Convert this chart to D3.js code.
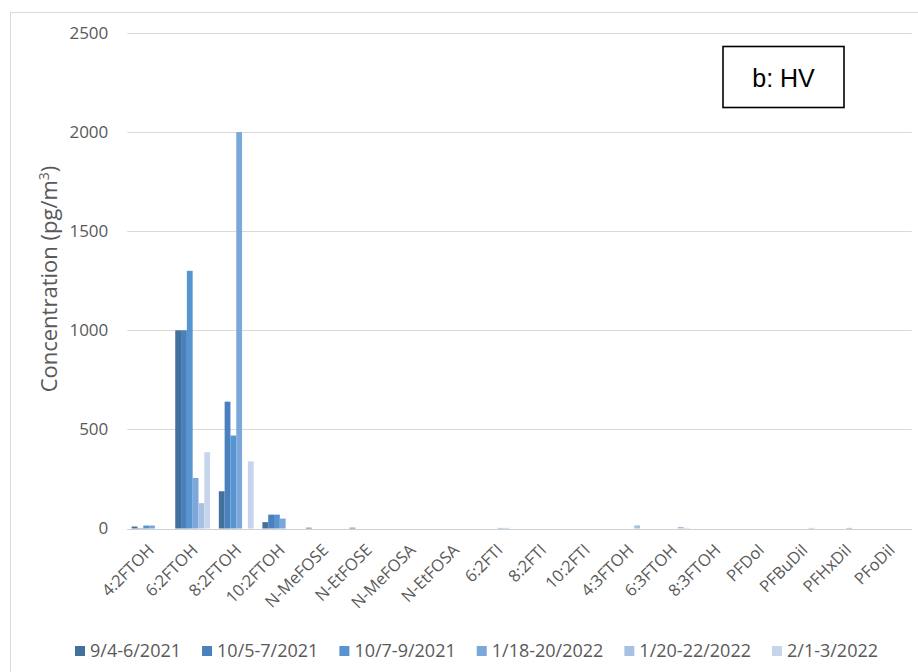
<!DOCTYPE html>
<html>
<head>
<meta charset="utf-8">
<script src="https://cdn.jsdelivr.net/npm/d3@7"></script>
<style>
  html, body { margin: 0; padding: 0; background: #fff; }
  svg { display: block; font-family: "Open Sans", sans-serif; }
</style>
</head>
<body>
<svg id="chart" width="918" height="672"></svg>
<script>
// ---- data ----
const categories = ["4:2FTOH", "6:2FTOH", "8:2FTOH", "10:2FTOH", "N-MeFOSE", "N-EtFOSE", "N-MeFOSA", "N-EtFOSA",
  "6:2FTI", "8:2FTI", "10:2FTI", "4:3FTOH", "6:3FTOH", "8:3FTOH", "PFDoI", "PFBuDiI", "PFHxDiI", "PFoDiI"];
const seriesNames = ["9/4-6/2021", "10/5-7/2021", "10/7-9/2021", "1/18-20/2022", "1/20-22/2022", "2/1-3/2022"];
const s1 = [10, 1000, 188, 32, 4, 4, 0, 0, 0, 0, 0, 0, 0, 0, 0, 0, 0, 0];
const s2 = [2, 1000, 640, 70, 0, 0, 0, 0, 0, 0, 0, 0, 0, 0, 0, 0, 0, 0];
const s3 = [15, 1300, 469, 70, 0, 0, 0, 0, 0, 0, 0, 0, 0, 0, 0, 0, 0, 0];
const s4 = [15, 255, 2000, 50, 0, 0, 0, 0, 3, 0, 0, 0, 0, 0, 0, 0, 3, 0];
const s5 = [0, 128, 0, 0, 0, 0, 0, 0, 3, 0, 0, 16, 8, 0, 0, 3, 0, 0];
const s6 = [0, 385, 339, 0, 0, 0, 0, 0, 0, 0, 0, 0, 3, 0, 0, 0, 0, 0];
const yTicks = [0, 500, 1000, 1500, 2000, 2500];
const colors = ["#44719c", "#4a80bd", "#5894d0", "#7ba7da", "#a8c1e3", "#c6d5ec"];
const allSeries = [s1, s2, s3, s4, s5, s6];

// ---- layout ----
const svg = d3.select("#chart");
const plot = { left: 127.3, right: 911.7, top: 33, bottom: 528.5 };

// outer frame
svg.append("rect")
  .attr("x", 10.5).attr("y", 12.5).attr("width", 930).attr("height", 700)
  .attr("fill", "none").attr("stroke", "#d9d9d9").attr("stroke-width", 1);

const x0 = d3.scaleBand().domain(categories).range([plot.left, plot.right])
  .paddingInner(0.2).paddingOuter(0.1);
const x1 = d3.scaleBand().domain(d3.range(seriesNames.length)).range([0, x0.bandwidth()]).padding(0);
const y = d3.scaleLinear().domain([0, 2500]).range([plot.bottom, plot.top]);

// gridlines
svg.append("g").selectAll("line").data(yTicks).join("line")
  .attr("x1", plot.left).attr("x2", plot.right)
  .attr("y1", d => Math.round(y(d)) + 0.5).attr("y2", d => Math.round(y(d)) + 0.5)
  .attr("stroke", "#d9d9d9").attr("stroke-width", 1);

// y-axis via d3.axisLeft (no domain line, no tick lines)
const yAxis = svg.append("g")
  .attr("transform", `translate(${plot.left},0)`)
  .call(d3.axisLeft(y).tickValues(yTicks).tickSize(0).tickPadding(19).tickFormat(d3.format("d")));
yAxis.select(".domain").remove();
yAxis.selectAll("text").attr("fill", "#595959").attr("font-size", 17)
  .attr("font-family", "'Open Sans', sans-serif");

// bars
const rows = categories.map((c, i) => ({ cat: c, vals: allSeries.map(s => s[i]) }));
const groups = svg.append("g").selectAll("g").data(rows).join("g")
  .attr("transform", d => `translate(${x0(d.cat)},0)`);
groups.selectAll("rect").data(d => d.vals.map((v, k) => ({ v, k }))).join("rect")
  .attr("x", d => x1(d.k))
  .attr("width", x1.bandwidth())
  .attr("y", d => y(d.v))
  .attr("height", d => Math.max(0, y(0) - y(d.v)))
  .attr("fill", d => colors[d.k]);

// x axis line
svg.append("line")
  .attr("x1", plot.left).attr("x2", plot.right)
  .attr("y1", Math.round(y(0)) + 0.5).attr("y2", Math.round(y(0)) + 0.5)
  .attr("stroke", "#d0d0d0").attr("stroke-width", 1.2);

// x labels (rotated)
svg.append("g").selectAll("text").data(categories).join("text")
  .attr("transform", d => `translate(${x0(d) + x0.bandwidth() / 2 + 2},547) rotate(-45)`)
  .attr("text-anchor", "end")
  .attr("dy", "0.35em")
  .attr("fill", "#595959").attr("font-size", 16.5)
  .text(d => d);

// y title
const yt = svg.append("text")
  .attr("transform", "translate(57,279) rotate(-90)")
  .attr("text-anchor", "middle")
  .attr("fill", "#595959").attr("font-size", 22);
yt.append("tspan").text("Concentration (pg/m");
yt.append("tspan").attr("font-size", 14).attr("dy", "-8").text("3");
yt.append("tspan").attr("dy", "8").text(")");

// legend
const legend = svg.append("g");
let lx = 75;
seriesNames.forEach((name, k) => {
  legend.append("rect").attr("x", lx).attr("y", 646).attr("width", 10).attr("height", 10).attr("fill", colors[k]);
  const t = legend.append("text").attr("x", lx + 15).attr("y", 651).attr("dy", "0.35em")
    .attr("fill", "#595959").attr("font-size", 18).text(name);
  lx += 15 + t.node().getComputedTextLength() + 21;
});

// annotation box
svg.append("rect").attr("x", 723).attr("y", 46.5).attr("width", 121).attr("height", 61)
  .attr("fill", "#fff").attr("stroke", "#000").attr("stroke-width", 1.6);
svg.append("text").attr("x", 783.5).attr("y", 87).attr("text-anchor", "middle")
  .attr("font-family", "'Liberation Sans', Arial, sans-serif").attr("font-size", 25).attr("fill", "#000")
  .text("b: HV");
</script>
</body>
</html>
